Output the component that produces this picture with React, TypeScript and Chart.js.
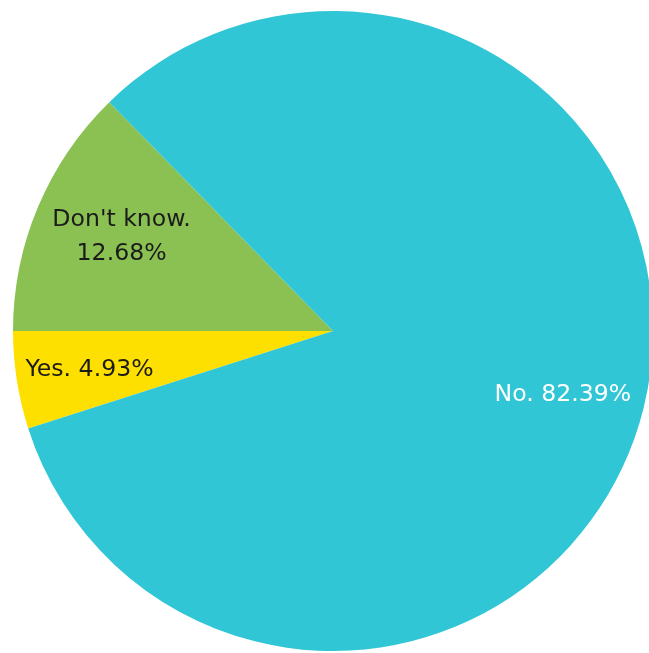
import React, { useEffect, useRef } from "react";
import { Chart, registerables } from "chart.js";

Chart.register(...registerables);

const categories = ["Yes.", "Don't know.", "No."];
const values = [4.93, 12.68, 82.39];
const sliceColors = ["#FEE000", "#8BC152", "#30C6D5"];
const labelColors = ["#1b1b1b", "#1b1b1b", "#ffffff"];
const labelLines = [["Yes. 4.93%"], ["Don't know.", "12.68%"], ["No. 82.39%"]];
const labelRadius = [0.77, 0.725, 0.745];
const labelAngleShift = [0, 1.5, 1.4];

const labelPlugin = {
  id: "sliceLabels",
  afterDatasetsDraw(chart: any) {
    const ctx = chart.ctx;
    const meta = chart.getDatasetMeta(0);
    ctx.save();
    ctx.font = "23.6px 'DejaVu Sans'";
    ctx.textAlign = "center";
    ctx.textBaseline = "middle";
    const lineH = 34;
    meta.data.forEach((arc: any, i: number) => {
      const p = arc.getProps(["startAngle", "endAngle", "outerRadius", "x", "y"], true);
      const mid = (p.startAngle + p.endAngle) / 2 + (labelAngleShift[i] * Math.PI) / 180;
      const r = p.outerRadius * labelRadius[i];
      const cx = p.x + Math.cos(mid) * r;
      const cy = p.y + Math.sin(mid) * r + 1;
      const lines = labelLines[i];
      ctx.fillStyle = labelColors[i];
      lines.forEach((t, k) => {
        ctx.fillText(t, cx, cy + (k - (lines.length - 1) / 2) * lineH);
      });
    });
    ctx.restore();
  },
};

export default function App() {
  const ref = useRef<HTMLCanvasElement>(null);
  useEffect(() => {
    if (!ref.current) return;
    const yesAngle = (values[0] / values.reduce((a, b) => a + b, 0)) * 360;
    const chart = new Chart(ref.current, {
      type: "pie",
      data: {
        labels: categories,
        datasets: [
          {
            data: values,
            backgroundColor: sliceColors,
            borderWidth: 0,
          },
        ],
      },
      options: {
        animation: false,
        responsive: false,
        rotation: 270 - yesAngle,
        layout: { padding: { left: 13, right: 27, top: 11, bottom: 2 } },
        plugins: {
          legend: { display: false },
          tooltip: { enabled: false },
        },
      },
      plugins: [labelPlugin],
    });
    return () => chart.destroy();
  }, []);
  return (
    <div
      style={{
        position: "fixed",
        left: 0,
        top: 0,
        width: 649,
        height: 653,
        overflow: "hidden",
        background: "#ffffff",
      }}
    >
      <canvas ref={ref} width={680} height={653} style={{ display: "block" }} />
    </div>
  );
}
